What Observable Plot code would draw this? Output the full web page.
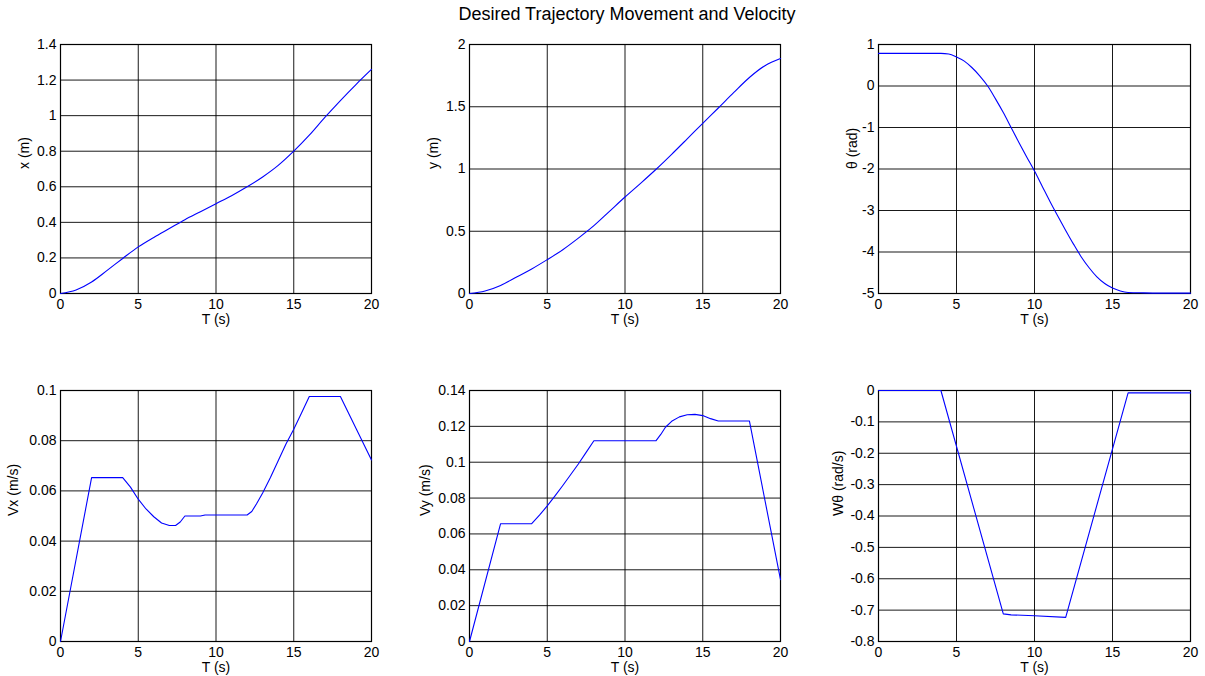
<!DOCTYPE html>
<html>
<head>
<meta charset="utf-8">
<script src="https://cdn.jsdelivr.net/npm/d3@7"></script>
<script src="https://cdn.jsdelivr.net/npm/@observablehq/plot@0.6"></script>
<style>
  html, body { margin: 0; padding: 0; background: #fff; overflow: hidden; }
  #fig { position: relative; width: 1205px; height: 676px; overflow: hidden; font-family: "Liberation Sans", Arial, Helvetica, sans-serif; }
  #title { position: absolute; top: 4px; left: 627px; transform: translateX(-50%); font-size: 18px; white-space: nowrap; color: #000; }
  .panel { position: absolute; }
</style>
</head>
<body>
<div id="fig">
  <div id="title">Desired Trajectory Movement and Velocity</div>
</div>
<script>
// Time ticks shared by every subplot
const tTicks = [0, 5, 10, 15, 20];

// x position (m)
const xT = [0, 1, 2, 3, 4, 5, 6, 7, 8, 9, 10, 11, 12, 13, 14, 15, 16, 17, 18, 19, 20];
const xPos = [0, 0.02, 0.065, 0.13, 0.197, 0.262, 0.315, 0.365, 0.415, 0.46, 0.505, 0.55, 0.6, 0.655, 0.72, 0.8, 0.89, 0.99, 1.085, 1.175, 1.26];
const xTicks = [0, 0.2, 0.4, 0.6, 0.8, 1, 1.2, 1.4];

// y position (m)
const yT = [0, 1, 2, 3, 4, 5, 6, 7, 8, 9, 10, 11, 12, 13, 14, 15, 16, 17, 18, 19, 20];
const yPos = [0, 0.02, 0.065, 0.13, 0.197, 0.272, 0.352, 0.445, 0.545, 0.66, 0.775, 0.885, 0.998, 1.118, 1.242, 1.367, 1.49, 1.615, 1.735, 1.83, 1.888];
const yTicks = [0, 0.5, 1, 1.5, 2];

// heading θ (rad)
const thT = [0, 2, 4, 4.5, 5, 5.5, 6, 6.5, 7, 7.5, 8, 8.5, 9, 9.5, 10, 10.5, 11, 11.5, 12, 12.5, 13, 13.5, 14, 14.5, 15, 15.5, 16, 17, 18, 20];
const theta = [0.785, 0.785, 0.785, 0.77, 0.7, 0.6, 0.44, 0.24, 0, -0.31, -0.64, -1, -1.36, -1.71, -2.05, -2.42, -2.79, -3.14, -3.48, -3.81, -4.12, -4.38, -4.6, -4.76, -4.87, -4.94, -4.975, -4.985, -4.99, -4.99];
const thTicks = [-5, -4, -3, -2, -1, 0, 1];

// Vx (m/s)
const vxT = [0, 2, 4, 4.5, 5, 5.5, 6, 6.5, 7, 7.4, 7.7, 8, 9, 9.3, 12, 12.3, 12.6, 13, 13.5, 14, 14.5, 15, 15.5, 16, 18, 20];
const vx = [0, 0.0653, 0.0653, 0.0615, 0.0567, 0.0528, 0.0497, 0.0472, 0.0462, 0.0462, 0.0476, 0.05, 0.05, 0.0504, 0.0504, 0.0518, 0.0548, 0.0592, 0.0653, 0.072, 0.0787, 0.0846, 0.091, 0.0976, 0.0976, 0.0723];
const vxTicks = [0, 0.02, 0.04, 0.06, 0.08, 0.1];

// Vy (m/s)
const vyT = [0, 2, 4, 4.5, 5, 5.5, 6, 6.5, 7, 7.5, 8, 12, 12.3, 12.6, 13, 13.5, 14, 14.5, 15, 15.5, 16, 18, 20];
const vy = [0, 0.0657, 0.0657, 0.0705, 0.0756, 0.0812, 0.087, 0.093, 0.099, 0.1055, 0.112, 0.112, 0.1155, 0.1195, 0.1228, 0.1253, 0.1265, 0.1267, 0.126, 0.1243, 0.123, 0.123, 0.0345];
const vyTicks = [0, 0.02, 0.04, 0.06, 0.08, 0.1, 0.12, 0.14];

// angular velocity Wθ (rad/s)
const wT = [0, 4, 8, 8.5, 10, 12, 16, 20];
const w = [0, 0, -0.712, -0.715, -0.718, -0.723, -0.0075, -0.0075];
const wTicks = [-0.8, -0.7, -0.6, -0.5, -0.4, -0.3, -0.2, -0.1, 0];

const FONT = '"Liberation Sans", Arial, Helvetica, sans-serif';
const fig = document.getElementById("fig");

function panel({t, v, yDomain, yTickVals, yLabel, boxLeft, boxTop, boxW, boxH, labelOffset, xLabelOffset, curve, marginBottom}) {
  const mL = 60, mR = 20, mT = 10;
  const data = t.map((ti, i) => ({t: ti, v: v[i]}));
  const fmt = d => String(d);
  const chart = Plot.plot({
    width: boxW + mL + mR,
    height: boxH + mT + marginBottom,
    marginLeft: mL, marginRight: mR, marginTop: mT, marginBottom,
    style: {fontFamily: FONT, fontSize: "14px", color: "#000", background: "transparent", overflow: "visible"},
    x: {domain: [0, 20]},
    y: {domain: yDomain},
    marks: [
      Plot.gridX(tTicks, {stroke: "#000", strokeOpacity: 0.9, strokeWidth: 1}),
      Plot.gridY(yTickVals, {stroke: "#000", strokeOpacity: 0.9, strokeWidth: 1}),
      Plot.axisX(tTicks, {tickSize: 0, tickPadding: 6, tickFormat: fmt, label: null, fontSize: 14}),
      Plot.axisY(yTickVals, {tickSize: 0, tickPadding: 4, tickFormat: fmt, label: null, fontSize: 14}),
      Plot.frame({stroke: "#000", strokeWidth: 1.2}),
      Plot.line(data, {x: "t", y: "v", stroke: "#0000ff", strokeWidth: 1.1, curve}),
      Plot.text(["T (s)"], {text: d => d, frameAnchor: "bottom", dy: xLabelOffset, fontSize: 14}),
      Plot.text([yLabel], {text: d => d, frameAnchor: "left", dx: -labelOffset, rotate: -90, fontSize: 14})
    ]
  });
  chart.classList.add("panel");
  chart.style.left = (boxLeft - mL) + "px";
  chart.style.top = (boxTop - mT) + "px";
  fig.appendChild(chart);
}

const colL = [60, 469, 878];
const boxW = 311;

panel({t: xT, v: xPos, yDomain: [0, 1.4], yTickVals: xTicks, yLabel: "x (m)", boxLeft: colL[0], boxTop: 44, boxW, boxH: 249, labelOffset: 36, xLabelOffset: 30, curve: "monotone-x", marginBottom: 40});
panel({t: yT, v: yPos, yDomain: [0, 2], yTickVals: yTicks, yLabel: "y (m)", boxLeft: colL[1], boxTop: 44, boxW, boxH: 249, labelOffset: 36, xLabelOffset: 30, curve: "monotone-x", marginBottom: 40});
panel({t: thT, v: theta, yDomain: [-5, 1], yTickVals: thTicks, yLabel: "θ (rad)", boxLeft: colL[2], boxTop: 44, boxW: 312, boxH: 249, labelOffset: 26, xLabelOffset: 30, curve: "monotone-x", marginBottom: 40});

panel({t: vxT, v: vx, yDomain: [0, 0.1], yTickVals: vxTicks, yLabel: "Vx (m/s)", boxLeft: colL[0], boxTop: 390, boxW, boxH: 251, labelOffset: 47, xLabelOffset: 30, curve: "linear", marginBottom: 35});
panel({t: vyT, v: vy, yDomain: [0, 0.14], yTickVals: vyTicks, yLabel: "Vy (m/s)", boxLeft: colL[1], boxTop: 390, boxW, boxH: 251, labelOffset: 44, xLabelOffset: 30, curve: "linear", marginBottom: 35});
panel({t: wT, v: w, yDomain: [-0.8, 0], yTickVals: wTicks, yLabel: "Wθ (rad/s)", boxLeft: colL[2], boxTop: 390, boxW: 312, boxH: 251, labelOffset: 40, xLabelOffset: 30, curve: "linear", marginBottom: 35});
</script>
</body>
</html>
